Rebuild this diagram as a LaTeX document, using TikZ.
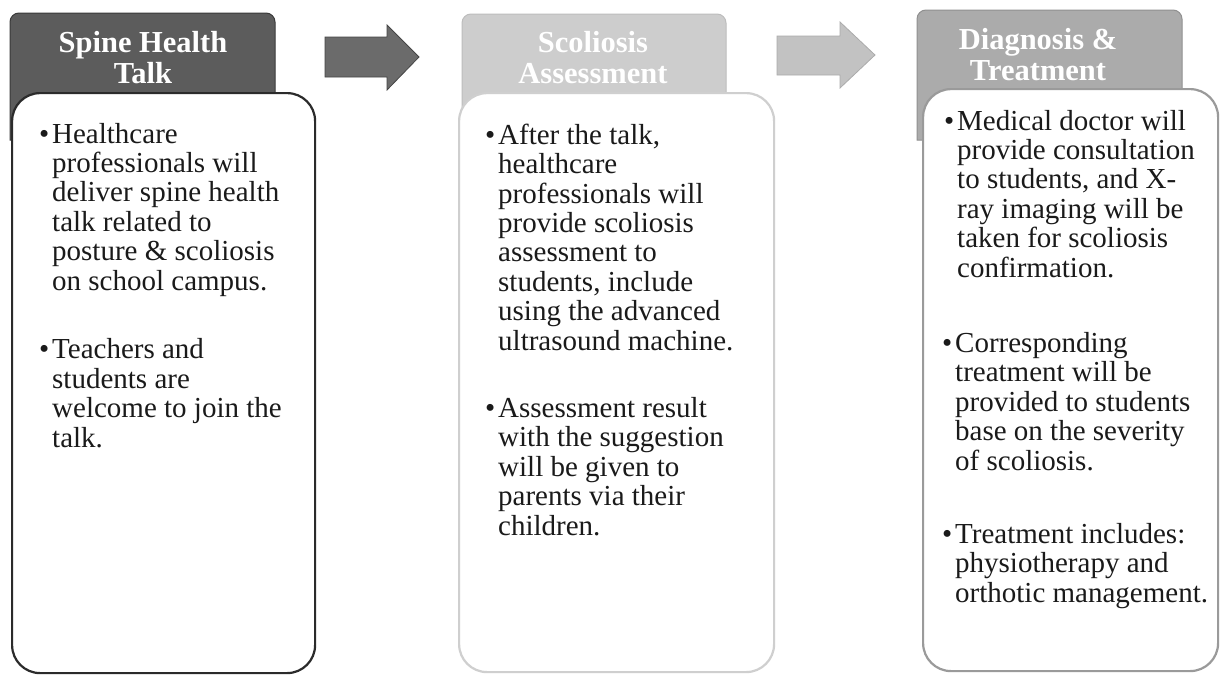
\documentclass[tikz,border=0pt]{standalone}
\usepackage{fontspec}
\setmainfont{Liberation Serif}
\definecolor{hAfill}{HTML}{5C5C5C}
\definecolor{hAline}{HTML}{3A3A3A}
\definecolor{hBfill}{HTML}{CDCDCD}
\definecolor{hBline}{HTML}{BDBDBD}
\definecolor{hCfill}{HTML}{ABABAB}
\definecolor{hCline}{HTML}{909090}
\definecolor{bAline}{HTML}{2B2B2B}
\definecolor{bBline}{HTML}{CFCFCF}
\definecolor{bCline}{HTML}{9A9A9A}
\definecolor{arAfill}{HTML}{6B6B6B}
\definecolor{arAline}{HTML}{454545}
\definecolor{arBfill}{HTML}{C2C2C2}
\definecolor{arBline}{HTML}{ABABAB}
\definecolor{bodyink}{HTML}{1A1A1A}
\newcommand{\bul}{\llap{\textbullet\hspace{3pt}}}
\begin{document}
\begin{tikzpicture}[x=1pt,y=-1pt,
  bodytext/.style={anchor=base west, inner sep=0pt, align=left, text=bodyink,
    font=\fontsize{29}{29.4}\selectfont},
  headtext/.style={anchor=base, inner sep=0pt, align=center, text=white,
    font=\fontsize{30.5}{30.5}\selectfont\bfseries},
  panelbox/.style={draw, fill=white, rounded corners=28pt, line width=2.2pt,
    anchor=north west, inner sep=0pt},
  headshape/.style={line width=1pt},
  blockarrow/.style={line width=0.8pt, line join=miter}]
\useasboundingbox[fill=white] (0,0) rectangle (1221,675);

% ---- panel 1 ----
\path[headshape, fill=hAfill, draw=hAline] (10,140) [rounded corners=9pt] -- (10,13) -- (275,13) [sharp corners] -- (275,140) -- cycle;
\node[panelbox, draw=bAline, minimum width=303pt, minimum height=580pt] (b1) at (11,92) {};
\node[headtext] (h1) at (143,83) {Spine Health\\Talk};
\node[bodytext] (p11) at (52,290) {\bul Healthcare\\professionals will\\deliver spine health\\talk related to\\posture \& scoliosis\\on school campus.};
\node[bodytext] (p12) at (52,447) {\bul Teachers and\\students are\\welcome to join the\\talk.};

% ---- panel 2 ----
\path[headshape, fill=hBfill, draw=hBline] (462,140) [rounded corners=9pt] -- (462,14) -- (726,14) [sharp corners] -- (726,140) -- cycle;
\node[panelbox, draw=bBline, minimum width=315pt, minimum height=579pt] (b2) at (458,92) {};
\node[headtext] (h2) at (593,83) {Scoliosis\\Assessment};
\node[bodytext] (p21) at (498,350) {\bul After the talk,\\healthcare\\professionals will\\provide scoliosis\\assessment to\\students, include\\using the advanced\\ultrasound machine.};
\node[bodytext] (p22) at (498,535) {\bul Assessment result\\with the suggestion\\will be given to\\parents via their\\children.};

% ---- panel 3 ----
\path[headshape, fill=hCfill, draw=hCline] (917,140) [rounded corners=9pt] -- (917,10) -- (1182,10) [sharp corners] -- (1182,140) -- cycle;
\node[panelbox, draw=bCline, minimum width=295pt, minimum height=582pt] (b3) at (922,88) {};
\node[headtext] (h3) at (1038,80) {Diagnosis \&\\Treatment};
\node[bodytext] (p31) at (957,277) {\bul Medical doctor will\\provide consultation\\to students, and X-\\ray imaging will be\\taken for scoliosis\\confirmation.};
\node[bodytext] (p32) at (955,470) {\bul Corresponding\\treatment will be\\provided to students\\base on the severity\\of scoliosis.};
\node[bodytext] (p33) at (955,602) {\bul Treatment includes:\\physiotherapy and\\orthotic management.};

% ---- block arrows ----
\path[blockarrow, fill=arAfill, draw=arAline] (325,37) -- (387,37) -- (387,25) -- (419,57) -- (387,90) -- (387,77) -- (325,77) -- cycle;
\path[blockarrow, fill=arBfill, draw=arBline] (777,36) -- (840,36) -- (840,22) -- (875,55) -- (840,88) -- (840,75) -- (777,75) -- cycle;
\end{tikzpicture}
\end{document}
